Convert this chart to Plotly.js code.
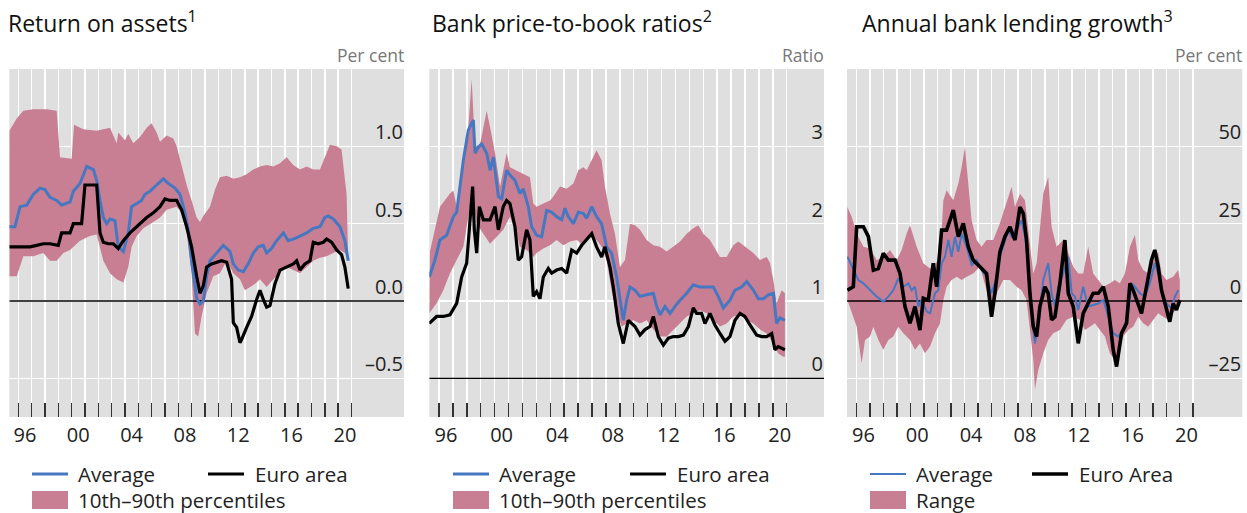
<!DOCTYPE html>
<html><head><meta charset="utf-8">
<script src="https://cdn.plot.ly/plotly-3.0.1.min.js"></script>
<style>html,body{margin:0;padding:0;background:#fff}#chart{width:1247px;height:513px}</style>
</head><body><div id="chart"></div>
<script>
// ---------------- DATA ([decimal year, value]) ----------------
// Panel 1: Return on assets (per cent)
const roaUpper = [[1995.33,1.10],[1995.88,1.18],[1996.38,1.23],[1997.13,1.24],[1998.13,1.24],[1998.88,1.23],[1999.13,0.93],[2000.0,0.92],[2000.18,1.14],[2000.88,1.11],[2001.88,1.10],[2002.88,1.12],[2003.38,1.02],[2003.5,1.09],[2004.0,1.04],[2004.25,1.08],[2004.63,1.02],[2005.13,1.06],[2005.63,1.12],[2006.0,1.15],[2006.38,1.09],[2006.63,1.03],[2007.13,1.07],[2007.63,1.05],[2007.88,1.00],[2008.25,0.87],[2008.63,0.75],[2009.0,0.65],[2009.38,0.54],[2009.63,0.51],[2009.88,0.55],[2010.38,0.61],[2010.75,0.72],[2011.13,0.80],[2011.63,0.81],[2012.13,0.79],[2012.63,0.80],[2013.13,0.82],[2013.63,0.85],[2014.13,0.87],[2014.63,0.88],[2015.13,0.87],[2015.63,0.89],[2016.13,0.93],[2016.63,0.88],[2017.13,0.85],[2017.63,0.87],[2018.13,0.85],[2018.63,0.85],[2019.0,0.93],[2019.38,1.01],[2019.88,1.00],[2020.25,0.98],[2020.63,0.69],[2020.75,0.28]];
const roaLower = [[1995.33,0.16],[1995.88,0.16],[1996.38,0.29],[1997.13,0.29],[1997.88,0.31],[1998.38,0.26],[1998.88,0.26],[1999.38,0.31],[1999.88,0.33],[2000.63,0.39],[2001.38,0.42],[2001.88,0.43],[2002.38,0.26],[2002.88,0.18],[2003.38,0.14],[2003.88,0.12],[2004.25,0.22],[2004.5,0.35],[2004.88,0.42],[2005.38,0.47],[2006.13,0.51],[2006.63,0.54],[2007.13,0.59],[2007.88,0.61],[2008.25,0.57],[2008.63,0.44],[2009.0,0.18],[2009.25,-0.21],[2009.5,-0.23],[2009.75,-0.10],[2010.13,0.05],[2010.63,0.16],[2011.13,0.18],[2011.63,0.26],[2012.13,0.18],[2012.63,0.14],[2013.0,0.07],[2013.38,0.09],[2013.75,0.11],[2014.13,0.14],[2014.63,0.09],[2015.13,0.14],[2015.63,0.18],[2016.13,0.22],[2016.63,0.20],[2017.13,0.18],[2017.63,0.22],[2018.13,0.26],[2018.63,0.28],[2019.13,0.29],[2019.63,0.31],[2020.13,0.33],[2020.5,0.31],[2020.75,0.28]];
const roaAverage = [[1995.33,0.48],[1995.75,0.48],[1996.13,0.61],[1996.63,0.62],[1997.13,0.69],[1997.63,0.73],[1998.0,0.72],[1998.38,0.67],[1998.88,0.65],[1999.25,0.62],[1999.88,0.64],[2000.13,0.71],[2000.63,0.76],[2001.13,0.87],[2001.63,0.85],[2001.88,0.78],[2002.13,0.65],[2002.38,0.54],[2002.63,0.50],[2002.88,0.53],[2003.25,0.52],[2003.5,0.35],[2003.88,0.32],[2004.25,0.44],[2004.5,0.61],[2004.88,0.63],[2005.25,0.65],[2005.5,0.69],[2005.88,0.71],[2006.38,0.75],[2006.88,0.79],[2007.25,0.76],[2007.75,0.73],[2008.13,0.69],[2008.5,0.57],[2008.75,0.46],[2009.0,0.26],[2009.38,0.02],[2009.63,-0.02],[2009.88,0.00],[2010.13,0.16],[2010.38,0.26],[2010.88,0.31],[2011.38,0.36],[2011.88,0.32],[2012.13,0.24],[2012.5,0.20],[2012.88,0.19],[2013.25,0.24],[2013.63,0.31],[2014.0,0.35],[2014.38,0.36],[2014.63,0.31],[2015.0,0.34],[2015.38,0.39],[2015.88,0.44],[2016.25,0.39],[2016.63,0.40],[2017.13,0.42],[2017.63,0.44],[2018.13,0.47],[2018.63,0.48],[2019.0,0.54],[2019.25,0.55],[2019.63,0.53],[2020.13,0.48],[2020.5,0.39],[2020.75,0.26]];
const roaEuro = [[1995.33,0.35],[1996.13,0.35],[1996.88,0.35],[1997.38,0.36],[1997.88,0.37],[1998.38,0.37],[1999.0,0.36],[1999.25,0.44],[1999.88,0.44],[2000.13,0.50],[2000.75,0.50],[2001.0,0.75],[2001.38,0.75],[2001.88,0.75],[2002.13,0.44],[2002.38,0.38],[2002.75,0.37],[2003.13,0.37],[2003.5,0.34],[2003.88,0.39],[2004.38,0.44],[2004.63,0.46],[2005.13,0.50],[2005.63,0.54],[2006.13,0.57],[2006.63,0.61],[2007.0,0.66],[2007.38,0.65],[2007.88,0.65],[2008.25,0.59],[2008.63,0.48],[2009.0,0.35],[2009.38,0.16],[2009.63,0.05],[2009.88,0.10],[2010.13,0.22],[2010.5,0.24],[2010.88,0.25],[2011.25,0.26],[2011.63,0.25],[2012.0,0.14],[2012.13,-0.14],[2012.38,-0.17],[2012.63,-0.27],[2012.75,-0.25],[2013.13,-0.17],[2013.5,-0.10],[2013.88,0.01],[2014.13,0.07],[2014.38,0.01],[2014.63,-0.04],[2014.88,-0.03],[2015.25,0.11],[2015.63,0.20],[2016.13,0.22],[2016.63,0.24],[2016.88,0.26],[2017.13,0.20],[2017.5,0.24],[2017.88,0.26],[2018.13,0.38],[2018.5,0.37],[2018.88,0.38],[2019.13,0.40],[2019.5,0.38],[2019.88,0.33],[2020.25,0.30],[2020.5,0.22],[2020.75,0.08]];

// Panel 2: Bank price-to-book ratios (ratio)
const pbUpper = [[1995.35,1.64],[1996.07,2.22],[1996.79,2.39],[1997.03,2.43],[1997.27,2.22],[1997.75,2.82],[1998.11,3.25],[1998.35,3.87],[1998.59,2.99],[1998.95,3.03],[1999.43,3.46],[1999.67,3.25],[2000.03,2.91],[2000.39,2.48],[2000.86,2.91],[2001.10,2.73],[2001.58,2.69],[2002.06,2.65],[2002.54,2.60],[2002.78,2.26],[2003.02,2.22],[2003.50,2.26],[2003.98,2.30],[2004.22,2.35],[2004.70,2.48],[2005.18,2.45],[2005.66,2.52],[2006.02,2.69],[2006.38,2.73],[2006.62,2.69],[2006.98,2.82],[2007.33,2.95],[2007.69,2.82],[2007.93,2.48],[2008.29,2.13],[2008.65,1.87],[2009.01,1.44],[2009.37,1.53],[2009.73,2.00],[2010.09,1.98],[2010.45,1.92],[2010.93,1.79],[2011.41,1.72],[2011.89,1.70],[2012.37,1.64],[2012.85,1.70],[2013.33,1.77],[2013.81,1.87],[2014.28,1.94],[2014.64,1.98],[2015.00,1.87],[2015.48,1.79],[2015.72,1.72],[2016.20,1.57],[2016.68,1.57],[2017.16,1.72],[2017.52,1.77],[2017.88,1.72],[2018.24,1.68],[2018.60,1.62],[2019.08,1.53],[2019.56,1.57],[2019.80,1.49],[2020.04,1.27],[2020.27,0.97],[2020.63,1.14],[2020.87,1.10]];
const pbLower = [[1995.30,0.84],[1995.83,0.97],[1996.31,1.14],[1996.79,1.36],[1997.27,1.53],[1997.75,1.70],[1998.23,2.22],[1998.47,2.26],[1998.71,2.00],[1999.19,1.87],[1999.67,1.74],[2000.15,1.83],[2000.62,1.92],[2001.10,2.09],[2001.58,1.87],[2001.82,1.70],[2002.30,1.66],[2002.78,1.57],[2003.02,1.62],[2003.50,1.68],[2003.98,1.72],[2004.46,1.79],[2004.94,1.72],[2005.42,1.77],[2005.90,1.79],[2006.38,1.72],[2006.86,1.83],[2007.33,1.79],[2007.69,1.70],[2008.05,1.53],[2008.41,1.14],[2008.77,0.84],[2009.13,0.67],[2009.49,0.71],[2009.97,0.75],[2010.45,0.71],[2010.93,0.75],[2011.41,0.63],[2011.89,0.54],[2012.37,0.54],[2012.85,0.63],[2013.33,0.71],[2013.81,0.80],[2014.28,0.84],[2014.76,0.88],[2015.24,0.84],[2015.72,0.75],[2016.20,0.67],[2016.68,0.71],[2017.16,0.80],[2017.64,0.82],[2018.12,0.75],[2018.60,0.71],[2019.08,0.63],[2019.56,0.58],[2020.04,0.45],[2020.39,0.32],[2020.75,0.28],[2020.87,0.28]];
const pbAverage = [[1995.30,1.31],[1995.71,1.53],[1996.07,1.79],[1996.55,1.85],[1997.03,2.09],[1997.27,2.15],[1997.51,2.48],[1997.75,2.82],[1998.11,3.21],[1998.47,3.34],[1998.59,2.91],[1998.83,2.99],[1999.07,3.03],[1999.43,2.91],[1999.67,2.69],[1999.91,2.86],[2000.27,2.35],[2000.51,2.32],[2000.86,2.69],[2001.10,2.63],[2001.46,2.56],[2001.82,2.39],[2002.06,2.45],[2002.42,2.22],[2002.66,1.96],[2003.02,1.85],[2003.38,1.83],[2003.74,2.17],[2004.10,2.15],[2004.46,2.09],[2004.82,2.05],[2005.06,2.20],[2005.30,2.09],[2005.66,2.00],[2006.02,2.15],[2006.38,2.13],[2006.62,2.07],[2006.98,2.22],[2007.33,2.09],[2007.69,2.00],[2008.05,1.70],[2008.41,1.62],[2008.77,1.31],[2009.01,1.01],[2009.25,0.75],[2009.49,1.01],[2009.73,1.18],[2010.09,1.14],[2010.45,1.06],[2010.93,1.08],[2011.41,1.10],[2011.65,0.93],[2011.89,0.82],[2012.25,0.93],[2012.61,0.84],[2012.97,0.93],[2013.33,1.01],[2013.81,1.10],[2014.28,1.21],[2014.76,1.18],[2015.24,1.18],[2015.72,1.18],[2016.08,1.06],[2016.44,0.91],[2016.92,1.01],[2017.28,1.14],[2017.76,1.18],[2018.12,1.25],[2018.60,1.14],[2018.96,1.03],[2019.32,1.03],[2019.68,1.08],[2020.04,1.10],[2020.27,0.71],[2020.51,0.78],[2020.87,0.75]];
const pbEuro = [[1995.30,0.71],[1995.83,0.80],[1996.31,0.80],[1996.79,0.82],[1997.27,0.97],[1997.63,1.31],[1997.99,1.49],[1998.23,2.00],[1998.42,2.48],[1998.54,1.92],[1998.71,1.62],[1998.90,2.22],[1999.19,2.05],[1999.67,2.05],[2000.03,2.22],[2000.27,1.92],[2000.62,2.22],[2000.86,2.30],[2001.10,2.26],[2001.46,1.96],[2001.70,1.53],[2001.94,1.57],[2002.30,1.92],[2002.54,1.79],[2002.78,1.06],[2003.02,1.12],[2003.26,1.03],[2003.50,1.31],[2003.86,1.42],[2004.10,1.36],[2004.46,1.40],[2004.82,1.42],[2005.18,1.36],[2005.54,1.66],[2005.90,1.62],[2006.26,1.72],[2006.62,1.79],[2006.98,1.87],[2007.33,1.70],[2007.69,1.57],[2007.93,1.70],[2008.29,1.44],[2008.53,1.18],[2008.89,0.71],[2009.25,0.45],[2009.61,0.75],[2010.09,0.67],[2010.45,0.56],[2010.81,0.63],[2011.17,0.67],[2011.41,0.80],[2011.77,0.54],[2012.13,0.43],[2012.49,0.52],[2012.85,0.54],[2013.21,0.54],[2013.57,0.56],[2013.93,0.67],[2014.28,0.91],[2014.52,0.84],[2014.88,0.84],[2015.12,0.71],[2015.48,0.84],[2015.84,0.69],[2016.20,0.58],[2016.56,0.48],[2016.92,0.54],[2017.28,0.75],[2017.64,0.84],[2017.99,0.80],[2018.36,0.69],[2018.84,0.56],[2019.20,0.54],[2019.56,0.54],[2019.92,0.58],[2020.15,0.37],[2020.39,0.41],[2020.63,0.39],[2020.87,0.37]];

// Panel 3: Annual bank lending growth (per cent)
const lgUpper = [[1995.31,30.4],[1995.63,27.2],[1996.0,21.8],[1996.50,17.5],[1996.99,17.0],[1997.49,13.2],[1997.98,14.3],[1998.48,16.5],[1998.97,13.2],[1999.34,16.5],[1999.71,21.8],[1999.96,24.5],[2000.46,17.5],[2000.95,12.2],[2001.45,10.5],[2001.82,12.2],[2002.19,13.2],[2002.44,32.6],[2002.68,35.8],[2003.18,32.6],[2003.55,38.0],[2003.80,43.3],[2004.04,49.8],[2004.29,36.9],[2004.54,26.1],[2004.91,19.7],[2005.28,17.5],[2005.65,19.7],[2006.15,19.7],[2006.64,25.1],[2007.14,31.5],[2007.51,36.9],[2007.76,30.4],[2008.13,34.7],[2008.50,32.6],[2008.87,17.5],[2009.12,8.9],[2009.37,12.2],[2009.61,24.0],[2009.86,34.7],[2010.23,40.1],[2010.48,24.0],[2010.85,17.5],[2011.35,19.7],[2011.72,15.4],[2012.09,11.1],[2012.46,8.9],[2012.83,8.9],[2013.20,17.5],[2013.57,8.9],[2013.95,6.8],[2014.32,4.6],[2014.81,5.7],[2015.18,6.8],[2015.55,5.7],[2015.93,8.9],[2016.30,17.5],[2016.67,21.3],[2016.92,13.2],[2017.29,10.0],[2017.66,8.9],[2018.03,13.2],[2018.40,15.9],[2018.65,8.9],[2019.02,6.8],[2019.51,7.8],[2019.89,10.0],[2020.01,6.8]];
const lgLower = [[1995.31,0.3],[1995.63,-4.0],[1996.0,-8.3],[1996.37,-20.1],[1996.62,-12.6],[1996.99,-11.5],[1997.24,-8.3],[1997.61,-12.6],[1997.98,-15.8],[1998.35,-12.6],[1998.72,-11.5],[1999.09,-8.3],[1999.47,-10.4],[1999.96,-12.6],[2000.33,-15.8],[2000.70,-13.7],[2001.07,-16.9],[2001.45,-14.7],[2001.82,-10.4],[2002.19,-7.2],[2002.44,0.3],[2002.68,4.6],[2003.05,6.8],[2003.43,7.8],[2003.80,6.8],[2004.17,7.8],[2004.66,8.9],[2005.16,11.1],[2005.65,3.5],[2006.02,-4.0],[2006.40,2.5],[2006.89,6.8],[2007.39,6.8],[2007.88,4.6],[2008.25,3.5],[2008.62,0.3],[2008.87,-10.4],[2009.12,-19.0],[2009.24,-28.7],[2009.49,-22.3],[2009.86,-16.9],[2010.23,-12.6],[2010.60,-10.4],[2011.10,-9.4],[2011.59,-6.1],[2012.09,-5.1],[2012.58,-6.1],[2012.96,-9.4],[2013.33,-8.3],[2013.70,-7.2],[2014.07,-9.4],[2014.44,-11.5],[2014.81,-16.9],[2015.18,-19.0],[2015.43,-16.9],[2015.80,-11.5],[2016.17,-9.4],[2016.54,-8.3],[2016.92,-5.1],[2017.29,-7.2],[2017.66,-8.3],[2018.03,-6.1],[2018.40,-4.0],[2018.77,-5.1],[2019.14,-6.1],[2019.51,-4.0],[2019.89,-1.8],[2020.01,-0.8]];
const lgAverage = [[1995.31,14.3],[1995.75,10.0],[1996.12,6.8],[1996.50,5.7],[1996.99,3.5],[1997.49,1.4],[1997.98,-0.2],[1998.35,1.4],[1998.72,3.5],[1999.09,7.3],[1999.47,4.6],[1999.84,5.7],[2000.08,3.5],[2000.33,4.6],[2000.58,-1.8],[2000.83,0.3],[2001.20,-3.4],[2001.45,-4.0],[2001.82,2.5],[2002.06,3.5],[2002.31,12.2],[2002.56,14.3],[2002.81,19.7],[2003.05,14.3],[2003.30,20.8],[2003.55,15.9],[2003.80,21.8],[2004.17,17.5],[2004.54,11.6],[2004.91,13.2],[2005.28,10.0],[2005.65,7.8],[2006.02,2.5],[2006.40,7.8],[2006.64,14.3],[2006.89,17.5],[2007.26,22.9],[2007.51,20.8],[2007.88,22.9],[2008.25,26.1],[2008.50,20.8],[2008.75,12.2],[2009.00,-4.0],[2009.24,-13.7],[2009.49,-8.3],[2009.86,6.8],[2010.23,12.2],[2010.48,2.5],[2010.73,-1.8],[2010.98,4.6],[2011.35,8.9],[2011.72,14.3],[2011.97,2.5],[2012.21,1.4],[2012.46,-2.9],[2012.83,4.6],[2013.20,-1.8],[2013.57,-1.3],[2013.95,-0.8],[2014.32,0.3],[2014.69,-5.1],[2015.06,-10.4],[2015.43,-11.5],[2015.80,-9.4],[2016.17,-4.0],[2016.42,5.7],[2016.67,4.6],[2017.04,2.5],[2017.41,1.4],[2017.78,5.7],[2018.15,12.2],[2018.40,8.9],[2018.65,2.5],[2019.02,-0.8],[2019.39,-2.4],[2019.64,1.4],[2019.89,3.5]];
const lgEuro = [[1995.31,3.5],[1995.75,4.6],[1996.00,24.0],[1996.50,24.0],[1996.87,20.8],[1997.24,10.0],[1997.61,10.5],[1997.98,15.4],[1998.35,13.2],[1998.85,13.2],[1999.22,8.9],[1999.59,-1.8],[1999.96,-7.2],[2000.33,-1.8],[2000.70,-9.4],[2000.95,0.9],[2001.32,0.3],[2001.69,12.2],[2001.94,4.6],[2002.31,22.9],[2002.68,22.9],[2003.18,29.4],[2003.55,20.8],[2003.92,25.1],[2004.29,17.5],[2004.66,13.2],[2005.16,11.1],[2005.65,8.9],[2006.02,-5.1],[2006.27,2.5],[2006.64,15.9],[2007.01,20.8],[2007.39,24.0],[2007.76,19.7],[2008.13,30.4],[2008.38,28.3],[2008.62,19.7],[2008.87,2.5],[2009.12,-8.3],[2009.37,-11.5],[2009.61,-1.8],[2009.99,4.6],[2010.23,2.5],[2010.48,-6.1],[2010.73,-5.1],[2011.10,5.7],[2011.47,19.7],[2011.72,2.5],[2012.09,-1.8],[2012.46,-13.7],[2012.83,-4.0],[2013.20,-0.8],[2013.57,2.5],[2013.95,2.5],[2014.32,4.6],[2014.69,-1.8],[2015.06,-15.8],[2015.31,-21.2],[2015.68,-10.4],[2016.05,-7.2],[2016.30,5.7],[2016.54,3.5],[2016.79,0.3],[2017.16,-4.0],[2017.53,4.6],[2017.90,13.2],[2018.15,16.5],[2018.40,11.1],[2018.65,3.5],[2019.02,-2.9],[2019.26,-6.7],[2019.51,-0.8],[2019.76,-2.9],[2020.01,0.3]];

// Axis ticks and labels
const tickYears = [1996,1997,1998,1999,2000,2001,2002,2003,2004,2005,2006,2007,2008,2009,2010,2011,2012,2013,2014,2015,2016,2017,2018,2019,2020,2021];
const labelYears = [1996,2000,2004,2008,2012,2016,2020];
const yearLabels = ['96','00','04','08','12','16','20'];
const roaTicks = [-0.5, 0, 0.5, 1.0];
const roaTickLabels = ['\u20130.5','0.0','0.5','1.0'];
const pbTicks = [0, 1, 2, 3];
const pbTickLabels = ['0','1','2','3'];
const lgTicks = [-25, 0, 25, 50];
const lgTickLabels = ['\u201325','0','25','50'];

const titles = ['Return on assets<sup>1</sup>', 'Bank price-to-book ratios<sup>2</sup>', 'Annual bank lending growth<sup>3</sup>'];
const units = ['Per cent', 'Ratio', 'Per cent'];

// ---------------- STYLE / LAYOUT ----------------
const W = 1247, H = 513;
const PINK = '#c97f93', BLUE = '#4677c1', BLACK = '#000000', BG = '#dfdfdf';
const FONT = 'Open Sans, Noto Sans, sans-serif';
const px = v => v / W, py = v => 1 - v / H;
const yDom = [py(417), py(69)];

const panels = [
  {xa:'x',  ya:'y',  dom:[9.3,404],   xr:[1995.325,2024.935], yr:[-0.75,1.5], up:roaUpper, lo:roaLower, avg:roaAverage, eu:roaEuro, yt:roaTicks, ytl:roaTickLabels, bw:3, kw:3.2},
  {xa:'x2', ya:'y2', dom:[429.3,824], xr:[1995.303,2023.68],  yr:[-0.5,4.0],  up:pbUpper,  lo:pbLower,  avg:pbAverage,  eu:pbEuro,  yt:pbTicks,  ytl:pbTickLabels,  bw:3, kw:3.2},
  {xa:'x3', ya:'y3', dom:[847,1242.3],xr:[1995.28,2024.65],   yr:[-37.5,75],  up:lgUpper,  lo:lgLower,  avg:lgAverage,  eu:lgEuro,  yt:lgTicks,  ytl:lgTickLabels,  bw:2, kw:3.6}
];

const traces = [];
const layout = {
  width: W, height: H, margin:{l:0,r:0,t:0,b:0},
  paper_bgcolor:'#ffffff', plot_bgcolor: BG, showlegend:false,
  font:{family: FONT, color:'#222', size:18},
  annotations:[], shapes:[]
};

panels.forEach((p, i) => {
  const xs = a => a.map(d => d[0]), ys = a => a.map(d => d[1]);
  traces.push({x: xs(p.lo), y: ys(p.lo), xaxis:p.xa, yaxis:p.ya, mode:'lines', line:{width:0, color:PINK}, hoverinfo:'skip'});
  traces.push({x: xs(p.up), y: ys(p.up), xaxis:p.xa, yaxis:p.ya, mode:'lines', fill:'tonexty', fillcolor:PINK, line:{width:0, color:PINK}, name: i===2 ? 'Range' : '10th\u201390th percentiles'});
  traces.push({x: p.xr, y: [0, 0], xaxis:p.xa, yaxis:p.ya, mode:'lines', line:{width:1.3, color:'#000'}, hoverinfo:'skip'});
  traces.push({x: xs(p.avg), y: ys(p.avg), xaxis:p.xa, yaxis:p.ya, mode:'lines', line:{width:p.bw, color:BLUE}, name:'Average'});
  traces.push({x: xs(p.eu), y: ys(p.eu), xaxis:p.xa, yaxis:p.ya, mode:'lines', line:{width:p.kw, color:BLACK}, name: i===2 ? 'Euro Area' : 'Euro area'});

  const n = i === 0 ? '' : String(i + 1);
  const lblAx = String(i + 4);
  // invisible trace so the label axis is drawn
  traces.push({x: [p.xr[0]], y: [null], xaxis:'x' + lblAx, yaxis:p.ya, mode:'lines', hoverinfo:'skip'});

  layout['xaxis' + n] = {
    domain:[px(p.dom[0]), px(p.dom[1])], range:p.xr, anchor:'y' + n,
    tickmode:'array', tickvals:tickYears, showticklabels:false,
    showgrid:true, gridcolor:'#ffffff', gridwidth:1.5,
    ticks:'inside', ticklen:14, tickwidth:1.5, tickcolor:'#333',
    zeroline:false, showline:false, fixedrange:true
  };
  // label axis: year labels centred in the middle of each labelled year
  layout['xaxis' + lblAx] = {
    overlaying: p.xa, anchor: p.ya, range:p.xr, side:'bottom',
    tickmode:'array', tickvals:labelYears.map(y => y + 0.5), ticktext:yearLabels,
    showgrid:false, ticks:'', zeroline:false, showline:false, fixedrange:true,
    ticklabelstandoff:4,
    tickfont:{family:FONT, size:20, color:'#222'}
  };
  layout['yaxis' + n] = {
    domain:yDom, range:p.yr, anchor:'x' + n, side:'right',
    tickmode:'array', tickvals:p.yt, ticktext:p.ytl,
    ticklabelposition:'inside', ticklabelshift:-14, ticklabelstandoff:-2, ticks:'',
    showgrid:true, gridcolor:'#ffffff', gridwidth:1.5,
    tickfont:{family:FONT, size:20, color:'#222'},
    zeroline:false, showline:false, fixedrange:true
  };

  const off = [0, 421, 838][i];
  layout.annotations.push({xref:'paper', yref:'paper', x:px([6, 430, 860][i]), y:py(22), xanchor:'left', yanchor:'middle',
    text:titles[i], showarrow:false, font:{family:FONT, size:23, color:'#111'}});
  layout.annotations.push({xref:'paper', yref:'paper', x:px(p.dom[1] + 2), y:py(55), xanchor:'right', yanchor:'middle',
    text:units[i], showarrow:false, font:{family:FONT, size:17.5, color:'#777'}});
  const lx0 = 32 + off, lx1 = 68 + off, kx0 = [208, 630, 1032][i], kx1 = kx0 + 36;
  layout.shapes.push({type:'line', xref:'paper', yref:'paper', x0:px(lx0), x1:px(lx1), y0:py(474), y1:py(474), line:{color:BLUE, width:p.bw}});
  layout.shapes.push({type:'line', xref:'paper', yref:'paper', x0:px(kx0), x1:px(kx1), y0:py(474), y1:py(474), line:{color:BLACK, width:p.kw}});
  layout.shapes.push({type:'rect', xref:'paper', yref:'paper', x0:px(lx0), x1:px(lx1), y0:py(509), y1:py(491), line:{width:0}, fillcolor:PINK});
  const lf = {family:FONT, size:20.5, color:'#222'};
  layout.annotations.push({xref:'paper', yref:'paper', x:px(lx1 + 8), y:py(474), xanchor:'left', yanchor:'middle', text:'Average', showarrow:false, font:lf});
  layout.annotations.push({xref:'paper', yref:'paper', x:px(kx1 + 9), y:py(474), xanchor:'left', yanchor:'middle', text: i===2 ? 'Euro Area' : 'Euro area', showarrow:false, font:lf});
  layout.annotations.push({xref:'paper', yref:'paper', x:px(lx1 + 8), y:py(500), xanchor:'left', yanchor:'middle', text: i===2 ? 'Range' : '10th\u201390th percentiles', showarrow:false, font:lf});
});

Plotly.newPlot('chart', traces, layout, {displayModeBar:false, staticPlot:true});
</script>
</body></html>
